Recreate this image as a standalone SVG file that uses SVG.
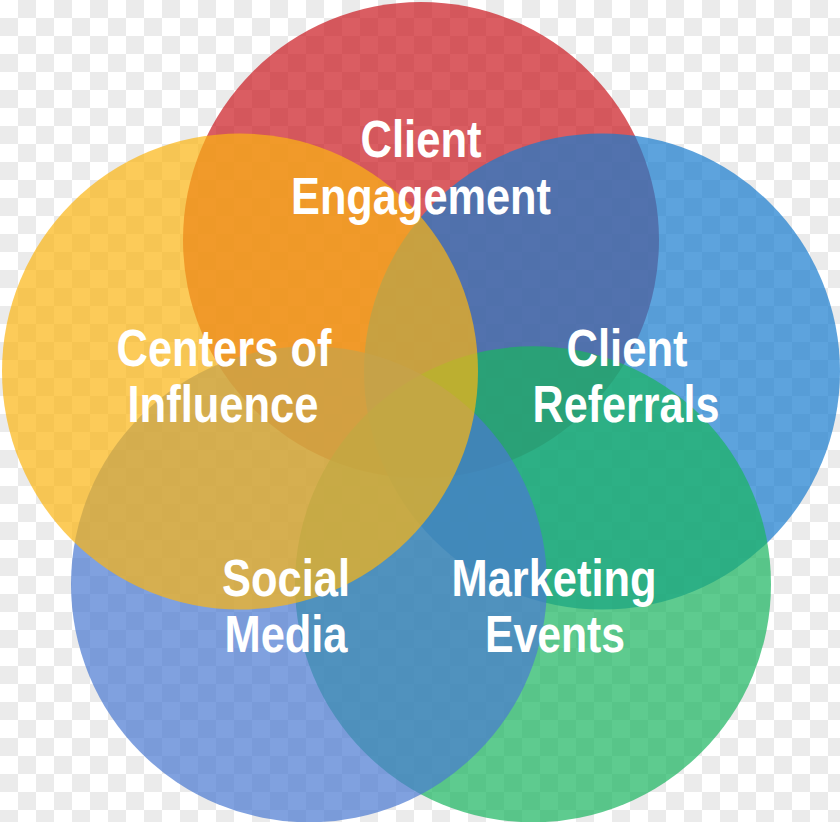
<svg xmlns="http://www.w3.org/2000/svg" width="840" height="822" viewBox="0 0 840 822">
  <defs>
    <pattern id="checker" x="0" y="0" width="36" height="36" patternUnits="userSpaceOnUse">
      <rect x="0" y="0" width="36" height="36" fill="#ffffff"/>
      <rect x="18" y="0" width="18" height="18" fill="#ebebeb"/>
      <rect x="0" y="18" width="18" height="18" fill="#ebebeb"/>
    </pattern>
    <style>
      .c { fill-opacity: 0.7; }
      .lbl { font-family: "Liberation Sans", Arial, sans-serif; font-weight: bold; font-size: 52px; fill: #ffffff; text-anchor: middle; }
    </style>
  </defs>
  <rect id="background" x="0" y="0" width="840" height="822" fill="url(#checker)"/>
  <g id="node-client-engagement">
    <circle class="c" cx="421" cy="240" r="238" fill="#ca181f"/>
  </g>
  <g id="node-client-referrals">
    <circle class="c" cx="602" cy="371.5" r="238" fill="#187cce"/>
  </g>
  <g id="node-marketing-events">
    <circle class="c" cx="533" cy="584.3" r="238" fill="#1ab55f"/>
  </g>
  <g id="node-social-media">
    <circle class="c" cx="309" cy="584.3" r="238" fill="#4a79d1"/>
  </g>
  <g id="node-centers-of-influence">
    <circle class="c" cx="240" cy="371.5" r="238" fill="#fbb513"/>
  </g>
  <g id="connectors"></g>
  <g id="labels">
    <g id="label-client-engagement">
      <text class="lbl" x="421" y="157" textLength="121" lengthAdjust="spacingAndGlyphs">Client</text>
      <text class="lbl" x="421" y="214" textLength="260" lengthAdjust="spacingAndGlyphs">Engagement</text>
    </g>
    <g id="label-centers-of-influence">
      <text class="lbl" x="224" y="366" textLength="215" lengthAdjust="spacingAndGlyphs">Centers of</text>
      <text class="lbl" x="223" y="422" textLength="191" lengthAdjust="spacingAndGlyphs">Influence</text>
    </g>
    <g id="label-client-referrals">
      <text class="lbl" x="627" y="366" textLength="121" lengthAdjust="spacingAndGlyphs">Client</text>
      <text class="lbl" x="626" y="422" textLength="187" lengthAdjust="spacingAndGlyphs">Referrals</text>
    </g>
    <g id="label-social-media">
      <text class="lbl" x="286" y="596" textLength="128" lengthAdjust="spacingAndGlyphs">Social</text>
      <text class="lbl" x="286" y="652" textLength="123" lengthAdjust="spacingAndGlyphs">Media</text>
    </g>
    <g id="label-marketing-events">
      <text class="lbl" x="554" y="596" textLength="205" lengthAdjust="spacingAndGlyphs">Marketing</text>
      <text class="lbl" x="555" y="652" textLength="140" lengthAdjust="spacingAndGlyphs">Events</text>
    </g>
  </g>
</svg>
